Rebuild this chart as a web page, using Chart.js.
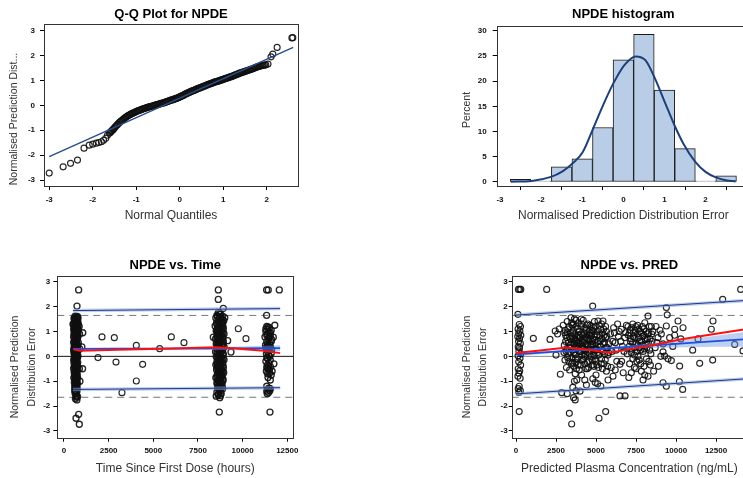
<!DOCTYPE html>
<html>
<head>
<meta charset="utf-8">
<script src="https://cdn.jsdelivr.net/npm/chart.js@4.4.1/dist/chart.umd.min.js"></script>
<style>
    html, body { margin: 0; padding: 0; background: #fff; overflow: hidden; width: 743px; height: 478px; position: relative; }
    canvas { position: absolute; }
</style>
</head>
<body>
<canvas id="qqChart" style="left:0px;top:0px" width="310" height="230"></canvas>
<canvas id="histChart" style="left:420px;top:0px" width="340" height="230"></canvas>
<canvas id="timeChart" style="left:0px;top:240px" width="310" height="238"></canvas>
<canvas id="predChart" style="left:420px;top:240px" width="340" height="238"></canvas>
<script>
// ---- Q-Q plot ----
const qqTheoretical = [-3.0, -2.68, -2.51, -2.35, -2.2, -2.08, -2.0, -1.92, -1.86, -1.8, -1.75, -1.7, -1.66, -1.62,
    -1.58, -1.54, -1.5, -1.45, -1.4, -1.35, -1.3, -1.25, -1.2, -1.15, -1.1, -1.05, -1.0, -0.95, -0.9, -0.85, -0.8,
    -0.75, -0.7, -0.65, -0.6, -0.55, -0.5, -0.45, -0.4, -0.35, -0.3, -0.25, -0.2, -0.15, -0.1, -0.05, 0,
    0.05, 0.1, 0.15, 0.2, 0.25, 0.3, 0.35, 0.4, 0.45, 0.5, 0.55, 0.6, 0.65, 0.7, 0.75, 0.8, 0.85, 0.9, 0.95, 1.0,
    1.05, 1.1, 1.15, 1.2, 1.25, 1.3, 1.35, 1.4, 1.45, 1.5, 1.55, 1.6, 1.65, 1.7, 1.75, 1.8, 1.86, 1.92, 1.98, 2.03,
    2.1, 2.14, 2.24, 2.58, 2.6];
const qqObserved = [-2.72, -2.47, -2.33, -2.2, -1.72, -1.6, -1.56, -1.52, -1.49, -1.46, -1.4, -1.32, -1.2, -1.12,
    -1.05, -0.98, -0.9, -0.8, -0.71, -0.63, -0.56, -0.49, -0.43, -0.38, -0.33, -0.29, -0.25, -0.21, -0.18, -0.15, -0.12,
    -0.09, -0.06, -0.04, -0.01, 0.02, 0.04, 0.07, 0.09, 0.12, 0.15, 0.18, 0.21, 0.24, 0.27, 0.3, 0.34,
    0.38, 0.42, 0.47, 0.51, 0.55, 0.59, 0.62, 0.66, 0.7, 0.73, 0.77, 0.8, 0.84, 0.87, 0.9, 0.93, 0.96, 0.99, 1.02, 1.05,
    1.08, 1.11, 1.14, 1.17, 1.2, 1.24, 1.27, 1.31, 1.34, 1.37, 1.4, 1.43, 1.46, 1.49, 1.53, 1.56, 1.59, 1.61, 1.63, 1.66,
    1.95, 2.06, 2.33, 2.71, 2.72];
// extra points of the dense central band
const qqTheoreticalDense = [-1.6, -1.56, -1.52, -1.475, -1.425, -1.375, -1.325, -1.275, -1.225, -1.175, -1.125, -1.075,
    -1.025, -0.975, -0.925, -0.875, -0.825, -0.775, -0.725, -0.675, -0.625, -0.575, -0.525, -0.475, -0.425, -0.375, -0.325,
    -0.275, -0.225, -0.175, -0.125, -0.075, -0.025, 0.025, 0.075, 0.125, 0.175, 0.225, 0.275, 0.325, 0.375, 0.425, 0.475,
    0.525, 0.575, 0.625, 0.675, 0.725, 0.775, 0.825, 0.875, 0.925, 0.975, 1.025, 1.075, 1.125, 1.175, 1.225, 1.275, 1.325,
    1.375, 1.425, 1.475, 1.525, 1.575, 1.625, 1.675, 1.725, 1.775, 1.83, 1.89, 1.95];
const qqObservedDense = [-1.09, -1.02, -0.95, -0.85, -0.76, -0.67, -0.6, -0.52, -0.46, -0.4, -0.35, -0.31, -0.27,
    -0.23, -0.2, -0.16, -0.13, -0.1, -0.07, -0.05, -0.03, 0.0, 0.03, 0.05, 0.08, 0.1, 0.13, 0.16, 0.2, 0.22, 0.25, 0.28, 0.32,
    0.36, 0.4, 0.45, 0.49, 0.53, 0.57, 0.6, 0.64, 0.68, 0.71, 0.75, 0.78, 0.82, 0.85, 0.88, 0.92, 0.95, 0.97, 1.0, 1.03,
    1.06, 1.09, 1.12, 1.15, 1.18, 1.22, 1.25, 1.29, 1.32, 1.35, 1.38, 1.41, 1.44, 1.47, 1.51, 1.54, 1.57, 1.6, 1.62];
const qqLineX = [-3.0, 2.61];
const qqLineY = [-2.06, 2.33];

// ---- histogram ----
const histBins = [-2.5, -2, -1.5, -1, -0.5, 0, 0.5, 1, 1.5, 2, 2.5];
const histPercent = [0.5, 0.2, 3.0, 4.6, 10.8, 24.2, 29.3, 18.2, 6.6, 0.2, 1.2];
const curveX = [-2.74, -2.23, -1.76, -1.48, -1.23, -0.99, -0.75, -0.5, -0.24, 0.03, 0.3, 0.54, 0.77, 1.02, 1.24, 1.46, 1.75, 2.0, 2.25, 2.49, 2.73];
const curveY = [0.05, 0.2, 1.0, 2.1, 3.7, 5.9, 10.3, 15.1, 19.6, 23.2, 24.9, 24.1, 20.5, 15.6, 11.3, 7.6, 4.0, 2.0, 0.9, 0.35, 0.1];

// ---- NPDE vs time ----
const timeDose1 = [[620,1.62],[700,1.58],[560,1.52],[760,1.5],[650,1.46],[590,1.42],[730,1.4],[680,1.35],[540,1.3],[800,1.28],
    [620,1.25],[710,1.22],[580,1.18],[760,1.15],[650,1.12],[540,1.08],[700,1.05],[600,1.02],[780,0.98],[660,0.95],[560,0.92],
    [730,0.88],[620,0.85],[690,0.82],[540,0.78],[770,0.75],[640,0.72],[590,0.68],[720,0.65],[670,0.62],[550,0.58],[800,0.55],
    [610,0.52],[700,0.48],[650,0.45],[570,0.42],[750,0.38],[630,0.35],[690,0.32],[540,0.28],[780,0.25],[600,0.22],[720,0.18],
    [660,0.15],[560,0.12],[740,0.08],[620,0.05],[690,0.02],[580,-0.02],[760,-0.05],[640,-0.08],[550,-0.12],[710,-0.15],[600,-0.18],
    [670,-0.22],[770,-0.25],[560,-0.28],[640,-0.32],[720,-0.36],[590,-0.4],[680,-0.44],[540,-0.48],[760,-0.52],[620,-0.56],
    [700,-0.6],[570,-0.65],[650,-0.7],[740,-0.74],[600,-0.78],[680,-0.82],[550,-0.86],[720,-0.9],[630,-0.95],[700,-1.0],
    [580,-1.05],[660,-1.1],[740,-1.14],[620,-1.18],[700,-1.22],[650,-1.3],[600,-1.38],[720,-1.42],[660,-1.5],[700,-1.58],
    [640,-1.7],[720,-1.75],[820,2.67],[728,2.02],[784,1.55],[1050,0.95],[1000,0.38],[1040,-0.5],[504,1.29],
    [821,-2.33],[672,-2.49],[858,-2.73],
    [750,1.6],[600,1.55],[680,1.48],[780,1.38],[600,1.32],[720,1.28],[660,1.2],[580,1.14],[800,1.1],[700,1.0],[620,0.96],
    [760,0.92],[580,0.86],[680,0.78],[740,0.7],[620,0.64],[700,0.58],[560,0.55],[660,0.5],[780,0.45],[600,0.4],[720,0.3],
    [640,0.26],[560,0.2],[700,0.12],[600,0.08],[780,0.02],[660,-0.02],[720,-0.08],[560,-0.18],[700,-0.24],[620,-0.38],
    [760,-0.4],[660,-0.52],[580,-0.58],[720,-0.66],[640,-0.8],[760,-0.86],[600,-0.92],[680,-0.98],[740,-1.04],[620,-1.12],
    [700,-1.1],[600,-1.26],[740,-1.3],[680,-1.4],[620,-1.48],[760,-1.62],[680,-1.64],
    [880,0.3],[860,-0.5],[870,0.9],[850,1.2],[890,-1.0]];
const timeDose2 = [[8640,1.76],[8760,1.7],[8560,1.65],[8880,1.62],[8700,1.58],[8500,1.54],[8820,1.5],[8620,1.46],[8940,1.42],
    [8740,1.38],[8540,1.34],[8860,1.3],[8660,1.26],[8460,1.22],[8800,1.18],[8600,1.14],[8920,1.1],[8720,1.06],[8520,1.02],
    [8840,0.98],[8640,0.94],[8960,0.9],[8760,0.86],[8560,0.82],[8880,0.78],[8680,0.74],[8480,0.7],[8800,0.66],[8600,0.62],
    [8920,0.58],[8720,0.54],[8520,0.5],[8840,0.46],[8640,0.42],[8960,0.38],[8760,0.34],[8560,0.3],[8880,0.26],[8680,0.22],
    [8480,0.18],[8800,0.14],[8600,0.1],[8920,0.06],[8720,0.02],[8520,-0.02],[8840,-0.06],[8640,-0.1],[8960,-0.14],[8760,-0.18],
    [8560,-0.22],[8880,-0.26],[8680,-0.3],[8500,-0.34],[8800,-0.38],[8620,-0.42],[8920,-0.46],[8720,-0.5],[8540,-0.54],
    [8840,-0.58],[8660,-0.62],[8940,-0.66],[8760,-0.7],[8580,-0.74],[8860,-0.78],[8680,-0.82],[8500,-0.86],[8800,-0.9],
    [8620,-0.94],[8900,-0.98],[8720,-1.02],[8560,-1.06],[8840,-1.1],[8660,-1.14],[8760,-1.2],[8600,-1.26],[8880,-1.3],
    [8700,-1.36],[8560,-1.44],[8800,-1.5],[8640,-1.56],[8520,-1.6],[8720,-1.66],[8700,0.9],[8650,0.55],[8780,0.15],
    [8600,-0.35],[8700,-0.6],[8820,1.35],[8580,1.0],[8680,-0.2],
    [8638,2.67],[8638,2.29],[8918,1.93],[9000,1.55],[8358,0.77],[9161,0.63],[8694,-2.24],[9347,0.17],
    [8700,1.72],[8600,1.6],[8800,1.55],[8900,1.45],[8680,1.4],[8560,1.28],[8760,1.24],[8900,1.2],[8640,1.16],[8840,1.08],
    [8580,1.05],[8700,1.0],[8900,0.95],[8600,0.88],[8800,0.8],[8560,0.72],[8900,0.7],[8680,0.64],[8760,0.58],[8580,0.52],
    [8900,0.48],[8700,0.44],[8600,0.4],[8800,0.3],[8700,0.26],[8560,0.16],[8900,0.12],[8660,0.06],[8780,-0.02],[8600,-0.06],
    [8900,-0.1],[8700,-0.14],[8800,-0.24],[8560,-0.3],[8760,-0.32],[8900,-0.36],[8580,-0.46],[8800,-0.52],[8660,-0.56],
    [8900,-0.6],[8600,-0.66],[8800,-0.74],[8720,-0.78],[8560,-0.84],[8760,-0.88],[8900,-0.92],[8660,-1.0],[8800,-1.04],
    [8580,-1.12],[8700,-1.18],[8860,-1.22],[8680,-1.28],[8760,-1.4],[8640,-1.5],[8760,-1.58]];
const timeDose3 = [[11350,1.2],[11500,1.15],[11420,1.08],[11600,1.05],[11300,1.0],[11480,0.95],[11380,0.88],[11550,0.82],
    [11250,0.78],[11450,0.72],[11620,0.68],[11350,0.6],[11500,0.52],[11280,0.45],[11420,0.42],[11380,0.38],[11560,0.36],
    [11300,0.34],[11470,0.3],[11620,0.28],[11400,0.2],[11330,0.1],[11520,0.0],[11400,-0.1],[11300,-0.2],[11480,-0.28],
    [11380,-0.35],[11560,-0.42],[11420,-0.5],[11330,-0.6],[11500,-0.68],[11600,-0.75],[11420,-0.85],[11550,-0.95],
    [11350,-1.2],[11470,-1.28],[11400,-1.32],[11520,-1.38],[11450,-1.45],[11380,-1.5],
    [11343,2.67],[11435,2.67],[12052,2.67],[11343,1.65],[11530,-2.24],[11716,0.77],[11800,1.25],[11750,-0.3],
    [11420,1.18],[11300,1.1],[11550,0.95],[11350,0.85],[11480,0.78],[11600,0.6],[11380,0.5],[11520,0.44],[11450,0.36],
    [11350,0.3],[11600,0.12],[11450,0.05],[11350,-0.05],[11550,-0.15],[11450,-0.4],[11350,-0.45],[11500,-0.55],
    [11400,-0.7],[11550,-1.3],[11350,-1.4],[11650,-0.6]];
const timeBetween = [[1903,-0.05],[2127,0.78],[2817,0.75],[2910,-0.23],[3246,-1.46],[4048,0.44],[4048,-0.99],
    [4403,-0.32],[5355,0.31],[6007,0.78],[6716,0.55],[9758,1.11],[10187,0.71]];
const timeLineX = [500, 12100];
const timeUpper = [1.84, 1.92];
const timeLower = [-1.33, -1.26];
const timeMidX = [500, 3000, 6000, 9000, 12100];
const timeMid = [0.3, 0.31, 0.31, 0.32, 0.33];
const timeMidLow = [0.26, 0.27, 0.27, 0.26, 0.21];
const timeMidHigh = [0.34, 0.35, 0.35, 0.38, 0.45];
const timeLoessX = [520, 900, 3000, 6000, 8500, 9500, 11000, 12100];
const timeLoess = [0.28, 0.23, 0.27, 0.32, 0.37, 0.33, 0.24, 0.13];

// ---- NPDE vs PRED ----
const predLow = [[150,2.69],[230,2.69],[300,2.69],[120,1.69],[200,1.28],[280,1.2],[130,1.1],[240,1.02],[170,0.92],[300,0.85],
    [110,0.8],[220,0.72],[160,0.6],[270,0.52],[140,0.38],[220,0.35],[180,0.22],[300,0.1],[130,0.02],[250,-0.08],[170,-0.22],
    [290,-0.35],[140,-0.5],[230,-0.58],[180,-0.68],[120,-0.8],[260,-0.88],[200,-1.2],[140,-1.3],[270,-1.38],[180,-1.45],[200,-2.22]];
const predCloud = [[1083,0.72],[1917,2.69],[2125,0.68],[2450,1.02],[2600,0.9],[2500,0.05],[2771,-0.72],[2854,-1.46],[2700,1.1],
    [2950,1.25],[3050,0.95],[3100,0.6],[3150,0.3],[3200,1.4],[3250,0.1],[3300,-0.2],[3350,0.8],[3400,0.45],[3438,1.55],[3000,0.15],
    [3150,-0.45],[3350,-0.55],[3250,1.1],[3100,0.85],
    [3500,1.25],[3550,0.95],[3600,0.7],[3650,0.35],[3700,0.05],[3750,-0.25],[3800,0.6],[3850,1.1],[3900,0.85],[3950,0.2],
    [3500,-0.05],[3600,-0.4],[3700,-0.7],[3800,-0.95],[3900,1.35],[3650,1.5],[3750,0.45],[3550,0.55],[3850,-0.1],[3950,-0.55],
    [3479,-2.72],[3333,-2.29],[3750,-1.39],[3600,-1.66],[3700,-1.75],[3550,-1.25],
    [4050,1.2],[4100,0.9],[4150,0.6],[4200,0.3],[4250,0.0],[4300,-0.3],[4350,0.75],[4400,1.05],[4450,0.45],[4500,0.15],
    [4550,-0.2],[4050,0.5],[4150,-0.15],[4250,0.95],[4350,0.25],[4450,-0.5],[4550,0.65],[4100,-0.75],[4300,-0.95],[4500,1.3],
    [4600,0.85],[4200,1.45],
    [4650,0.4],[4700,0.0],[4750,-0.35],[4792,2.02],[4800,0.7],[4850,1.0],[4900,0.3],[4950,-0.1],[5000,0.55],[5050,0.85],
    [5100,0.15],[5150,-0.45],[4700,1.2],[4900,1.4],[5125,1.42],[5000,-0.75],[4800,-0.9],[5100,-1.1],[4650,0.95],[5188,-2.49],
    [4950,0.9],[4750,0.6],
    [5250,0.6],[5300,0.25],[5350,-0.1],[5400,0.95],[5438,1.42],[5450,0.5],[5500,-0.3],[5550,0.1],[5600,0.75],[5650,-0.6],
    [5700,0.35],[5750,-0.95],[5300,1.1],[5500,0.85],[5604,-2.22],[5400,-0.5],[5650,1.0],[5800,0.5],[5750,0.05],
    [5900,0.9],[6000,0.2],[6063,-0.8],[6100,1.15],[6200,0.55],[6300,-0.2],[6400,0.8],[6500,-0.32],[6500,-1.59],[6583,1.09],
    [6650,0.4],[6700,-0.66],[6813,-1.59],[6900,1.25],[6950,0.1],[6200,-0.55],[6350,1.3],[5950,-0.45],[6800,0.75],
    [7000,1.2],[7100,0.95],[7150,0.6],[7208,-0.66],[7250,0.3],[7300,1.3],[7350,0.8],[7400,0.05],[7450,1.05],[7500,0.5],
    [7550,-0.2],[7600,1.25],[7625,0.0],[7650,0.75],[7700,0.35],[7750,1.0],[7800,-0.3],[7833,-0.6],[7850,0.6],[7900,1.2],
    [7938,-0.95],[7950,0.2],[8000,0.85],[8050,1.35],[8100,0.45],[8150,-0.1],[8200,0.7],[8250,1.62],[8300,0.95],[8350,0.25],
    [8400,-0.35],[8460,1.2],[8500,0.6],[8550,1.0],[8600,-0.6],[7200,0.15],[7500,-0.5],[7050,-0.85],[7300,-0.1],[8050,-0.75],
    [8250,-0.8],
    [8700,0.35],[8800,0.55],[8875,0.75],[9000,1.05],[9083,0.9],[9188,0.5],[9188,0.18],[9188,-1.06],[9292,0.01],[9396,1.96],
    [9396,1.22],[9396,-1.2],[9450,1.67],[9500,-0.1],[9600,0.75],[9708,-0.17],[9800,0.4],[9917,1.09],[9917,0.85],[10125,1.42],
    [10229,-0.39],[10208,-1.02],[10300,0.7],[10417,-1.33],[10438,1.15],[8900,-0.4],[9050,0.0],[8750,1.2],
    [11042,0.25],[11375,0.7],[11479,-0.28],[12208,1.09],[12292,-0.15],[12313,1.42],[12917,2.29],[13667,0.48],[14042,2.69],[14188,0.22]];
const predCloudDense = [[3020,0.45],[3080,1.05],[3130,0.2],[3180,0.75],[3230,-0.05],[3280,0.55],[3330,1.2],[3380,0.15],
    [3430,0.95],[3470,-0.3],[3060,-0.15],[3200,0.95],[3300,0.35],[3420,0.7],[3480,1.35],
    [3520,0.8],[3560,0.25],[3600,1.05],[3640,0.5],[3680,0.9],[3720,-0.1],[3760,1.2],[3800,0.3],[3840,0.75],[3880,-0.35],
    [3920,0.55],[3960,1.0],[3540,-0.25],[3620,0.15],[3700,0.65],[3780,-0.5],[3860,0.4],[3940,0.85],[3580,1.3],[3740,1.45],
    [4020,0.75],[4060,0.2],[4100,1.3],[4140,0.4],[4180,0.85],[4220,-0.1],[4260,0.65],[4300,1.15],[4340,0.05],[4380,0.5],
    [4420,0.9],[4460,-0.25],[4020,-0.35],[4120,0.05],[4200,0.55],[4280,0.3],[4360,-0.5],[4440,1.25],[4480,0.7],[4080,1.5],
    [4520,0.4],[4560,1.0],[4600,0.1],[4640,0.7],[4680,0.25],[4720,0.85],[4760,-0.15],[4800,0.45],[4840,1.15],[4880,0.05],
    [4920,0.65],[4960,0.25],[4540,-0.45],[4620,1.25],[4700,0.5],[4780,1.05],[4860,-0.4],[4940,1.2],[4980,-0.2],
    [5030,0.3],[5080,1.0],[5130,0.6],[5180,0.05],[5230,0.85],[5280,0.4],[5330,-0.3],[5380,0.7],[5430,0.2],[5480,1.1],
    [5530,0.55],[5580,-0.15],[5630,0.35],[5680,0.8],[5730,-0.4],[5780,0.15],[5200,1.25],[5350,1.3],[5600,1.2],[5050,-0.35],
    [7020,0.85],[7080,0.4],[7130,1.05],[7180,0.7],[7230,1.15],[7280,0.55],[7330,0.95],[7380,0.35],[7430,0.75],[7480,1.2],
    [7530,0.2],[7580,0.9],[7630,0.45],[7680,1.1],[7730,0.6],[7780,0.25],[7830,0.95],[7880,0.45],[7930,0.8],[7980,1.1],
    [8030,0.3],[8080,0.7],[8130,1.0],[8180,0.35],[8230,0.9],[8280,0.55],[8330,1.2],[8380,0.7],[8430,0.1],[8480,0.9],
    [7100,-0.3],[7400,-0.45],[7700,-0.15],[8000,-0.4],[8300,-0.2],
    [6050,0.6],[6150,0.95],[6250,0.25],[6450,1.0],[6550,0.6],[6750,0.2],[6850,0.95],[6600,-0.2],
    [3650,-1.0],[4400,-1.15],[4950,-1.05],[5300,-1.2],[3200,-1.5],[4000,-1.4]];
const predLineX = [0, 14437];
const predUpper = [1.66, 2.25];
const predLower = [-1.51, -0.9];
const predMidX = [0, 2500, 5000, 7500, 10000, 12500, 14437];
const predMid = [0.08, 0.19, 0.29, 0.4, 0.5, 0.61, 0.69];
const predMidLow = [0.0, 0.14, 0.25, 0.33, 0.36, 0.39, 0.39];
const predMidHigh = [0.16, 0.24, 0.33, 0.47, 0.64, 0.83, 0.99];
const predLoessX = [0, 1500, 3167, 4500, 5875, 7200, 8583, 10250, 12200, 14437];
const predLoess = [0.13, 0.24, 0.36, 0.27, 0.15, 0.3, 0.46, 0.68, 0.88, 1.1];

const refLevels = [1.645, -1.645];

// ---- helpers ----
Chart.defaults.font.family = "'Liberation Sans', Arial, sans-serif";
const tickFont = { family: "'Liberation Sans Narrow', 'Liberation Sans', Arial, sans-serif", size: 8, weight: 'bold' };

const xy = (xs, ys) => xs.map((x, i) => ({ x: x, y: ys[i] }));
const pts = arr => arr.map(p => ({ x: p[0], y: p[1] }));

const framePlugin = {
    id: 'frame',
    afterDraw(chart) {
        const { ctx, chartArea: a } = chart;
        ctx.save();
        ctx.strokeStyle = '#333';
        ctx.lineWidth = 1;
        ctx.strokeRect(Math.round(a.left) + 0.5, Math.round(a.top) + 0.5, Math.round(a.right - a.left), Math.round(a.bottom - a.top));
        ctx.restore();
    }
};

// vertical axis titles, placed like the SAS output (slightly below centre)
const yTitlePlugin = {
    id: 'yTitle',
    afterDraw(chart, args, opts) {
        const ctx = chart.ctx;
        ctx.save();
        ctx.font = "10.5px 'Liberation Sans', Arial, sans-serif";
        ctx.fillStyle = '#333';
        ctx.textAlign = 'center';
        ctx.textBaseline = 'middle';
        opts.lines.forEach((t, i) => {
            ctx.save();
            ctx.translate(opts.x + i * 16.7, opts.y);
            ctx.rotate(-Math.PI / 2);
            ctx.fillText(t, 0, 0);
            ctx.restore();
        });
        ctx.restore();
    }
};

function scale(isX, min, max, ticks, size, tickLen, tickPad, title) {
    return {
        type: 'linear',
        position: isX ? 'bottom' : 'left',
        min: min, max: max, offset: false,
        afterBuildTicks: s => { s.ticks = ticks.map(v => ({ value: v })); },
        afterFit: s => { if (isX) s.height = size; else s.width = size; },
        grid: { drawOnChartArea: false, drawTicks: true, tickLength: tickLen, color: '#000', lineWidth: 1 },
        border: { display: false },
        ticks: { padding: tickPad, font: tickFont, color: '#111', autoSkip: false, maxRotation: 0, callback: v => String(v) },
        title: title || { display: false }
    };
}

function axisTitle(text, pad) {
    return { display: true, text: text, color: '#333', font: { size: 12 }, padding: pad };
}

function chartTitle(text, top, bottom) {
    return { display: true, text: text, fullSize: false, color: '#000', font: { size: 13, weight: 'bold' }, padding: { top: top, bottom: bottom } };
}

const pointStyle = { type: 'scatter', pointRadius: 3, pointBorderWidth: 1.15, pointBorderColor: 'rgba(15,15,15,0.9)', pointBackgroundColor: 'rgba(0,0,0,0)', order: 5 };

function lineSet(data, color, width, order, extra) {
    return Object.assign({ type: 'line', data: data, borderColor: color, borderWidth: width, pointRadius: 0, fill: false, tension: 0, order: order }, extra || {});
}

function baseOptions(padRight, title, yTitle) {
    return {
        responsive: false, animation: false, devicePixelRatio: 1,
        layout: { padding: { left: 0, right: padRight, top: 0, bottom: 0 } },
        plugins: { legend: { display: false }, tooltip: { enabled: false }, title: title, yTitle: yTitle }
    };
}

// ---- panel 1: Q-Q ----
new Chart(document.getElementById('qqChart'), {
    type: 'scatter',
    data: {
        datasets: [
            lineSet(xy(qqLineX, qqLineY), '#2c4f8c', 1.6, 1),
            Object.assign({ data: xy(qqTheoretical, qqObserved) }, pointStyle),
            Object.assign({ data: xy(qqTheoreticalDense, qqObservedDense) }, pointStyle, { pointBorderWidth: 1.3 })
        ]
    },
    options: Object.assign(baseOptions(12, chartTitle('Q-Q Plot for NPDE', 6.2, 2.2),
        { lines: ['Normalised Prediction Dist...'], x: 14, y: 119 }), {
        scales: {
            x: scale(true, -3.12, 2.72, [-3, -2, -1, 0, 1, 2], 44, 4, 5, axisTitle('Normal Quantiles', { top: 0, bottom: 6.8 })),
            y: scale(false, -3.24, 3.27, [-3, -2, -1, 0, 1, 2, 3], 44, 4, 5)
        }
    }),
    plugins: [framePlugin, yTitlePlugin]
});

// ---- panel 2: histogram ----
new Chart(document.getElementById('histChart'), {
    type: 'bar',
    data: {
        datasets: [
            lineSet(xy(curveX, curveY), '#1f3f78', 2, 1, { cubicInterpolationMode: 'monotone' }),
            {
                type: 'bar', data: xy(histBins, histPercent), backgroundColor: '#b9cde6', borderColor: '#1a1a1a',
                borderWidth: 1, borderSkipped: false, barPercentage: 1, categoryPercentage: 1, order: 2
            }
        ]
    },
    options: Object.assign(baseOptions(10, chartTitle('NPDE histogram', 6.2, 4.2),
        { lines: ['Percent'], x: 46.7, y: 110 }), {
        scales: {
            x: scale(true, -3.08, 3.08, [-3, -2, -1, 0, 1, 2], 44, 4, 5, axisTitle('Normalised Prediction Distribution Error', { top: 0, bottom: 6.8 })),
            y: scale(false, -0.8, 30.93, [0, 5, 10, 15, 20, 25, 30], 76.7, 4, 6)
        }
    }),
    plugins: [framePlugin, yTitlePlugin]
});

// ---- panel 3 / 4 shared pieces ----
function refSets(xMin, xMax, zeroColor) {
    const sets = refLevels.map(v => lineSet(xy([xMin, xMax], [v, v]), '#777', 1, 7, { borderDash: [7, 5] }));
    sets.push(lineSet(xy([xMin, xMax], [0, 0]), zeroColor, 1, 7));
    return sets;
}

function quantileSets(lx, up, lo, mx, mid, midLo, midHi, loessX, loess) {
    return [
        lineSet(xy(loessX, loess), '#ff1010', 2, 1),
        lineSet(xy(mx, mid), '#1e4fe0', 1.8, 2),
        lineSet(xy(lx, up), '#1b3a8a', 1, 2),
        lineSet(xy(lx, lo), '#1b3a8a', 1, 2),
        lineSet(xy(lx, up), 'rgba(140,165,215,0.55)', 3.5, 3),
        lineSet(xy(lx, lo), 'rgba(140,165,215,0.55)', 3.5, 3),
        lineSet(xy(mx, midLo), 'rgba(0,0,0,0)', 0, 4),
        lineSet(xy(mx, midHi), 'rgba(0,0,0,0)', 0, 4, { fill: '-1', backgroundColor: 'rgba(110,150,225,0.45)' })
    ];
}

const npdeLines = ['Normalised Prediction', 'Distribution Error'];
const clusterStyle = Object.assign({}, pointStyle, { pointBorderWidth: 1.35 });

// ---- panel 3: NPDE vs time ----
new Chart(document.getElementById('timeChart'), {
    type: 'scatter',
    data: {
        datasets: quantileSets(timeLineX, timeUpper, timeLower, timeMidX, timeMid, timeMidLow, timeMidHigh, timeLoessX, timeLoess)
            .concat([
                Object.assign({ data: pts(timeDose1) }, clusterStyle),
                Object.assign({ data: pts(timeDose2) }, clusterStyle),
                Object.assign({ data: pts(timeDose3) }, clusterStyle),
                Object.assign({ data: pts(timeBetween) }, pointStyle)
            ])
            .concat(refSets(-375, 12836, '#111'))
    },
    options: Object.assign(baseOptions(16.7, chartTitle('NPDE vs. Time', 17.2, 3.2),
        { lines: npdeLines, x: 15, y: 127 }), {
        scales: {
            x: scale(true, -375, 12836, [0, 2500, 5000, 7500, 10000, 12500], 40.3, 4, 4, axisTitle('Time Since First Dose (hours)', { top: 0, bottom: 2.5 })),
            y: scale(false, -3.27, 3.23, [-3, -2, -1, 0, 1, 2, 3], 57.3, 4, 3)
        }
    }),
    plugins: [framePlugin, yTitlePlugin]
});

// ---- panel 4: NPDE vs PRED ----
new Chart(document.getElementById('predChart'), {
    type: 'scatter',
    data: {
        datasets: quantileSets(predLineX, predUpper, predLower, predMidX, predMid, predMidLow, predMidHigh, predLoessX, predLoess)
            .concat([
                Object.assign({ data: pts(predLow) }, pointStyle),
                Object.assign({ data: pts(predCloud) }, pointStyle),
                Object.assign({ data: pts(predCloudDense) }, pointStyle)
            ])
            .concat(refSets(-269, 14437, '#888'))
    },
    options: Object.assign(baseOptions(13, chartTitle('NPDE vs. PRED', 17.2, 3.2),
        { lines: npdeLines, x: 46.7, y: 127 }), {
        scales: {
            x: scale(true, -269, 14437, [0, 2500, 5000, 7500, 10000, 12500], 40.3, 4, 4, axisTitle('Predicted Plasma Concentration (ng/mL)', { top: 0, bottom: 2.5 })),
            y: scale(false, -3.27, 3.23, [-3, -2, -1, 0, 1, 2, 3], 91.7, 3, 1)
        }
    }),
    plugins: [framePlugin, yTitlePlugin]
});
</script>
</body>
</html>
